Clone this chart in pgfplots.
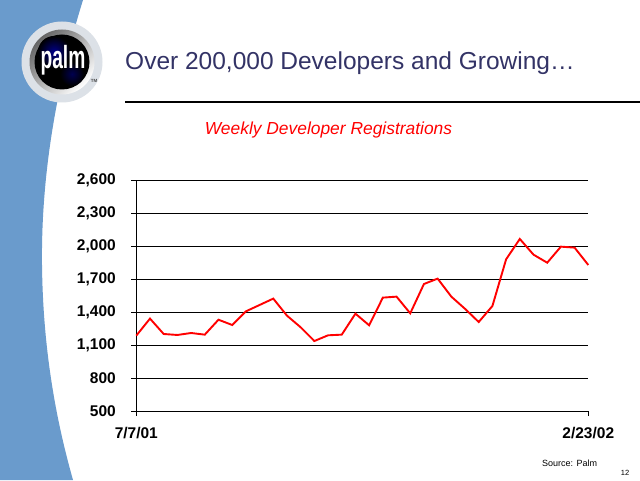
\documentclass[border=0pt]{standalone}
\usepackage{pgfplots}
\pgfplotsset{compat=1.18}
\usepackage{fontspec}
\setmainfont{Liberation Sans}
\definecolor{band}{HTML}{6A9BCC}
\definecolor{navy}{HTML}{333366}
\definecolor{glow}{HTML}{DCE1E7}
\begin{document}
\begin{tikzpicture}[x=1pt,y=1pt]
\useasboundingbox (0,0) rectangle (640,480);
\fill[white] (0,0) rectangle (640,480);
% blue band
\fill[band] (0,480) -- (83,480) .. controls (55,390) and (41,300) .. (42,215)
  .. controls (43,130) and (56,60) .. (73,0) -- (0,0) -- cycle;
% logo
\fill[glow] (62,418) circle (40.5);
\shade[left color=gray!80!black, right color=white, shading angle=45] (62,418) circle (32.5);
\fill[black] (62,418) circle (27.5);
\shade[inner color=blue!55!black, outer color=black] (54,428) circle (16);
\shade[inner color=blue!45!black, outer color=black, opacity=0.7] (72,406) circle (12);
\node[white, font=\bfseries\fontsize{32}{32}\selectfont, xscale=0.6] at (63,420) {palm};
\node[font=\fontsize{4.5}{4.5}\selectfont\bfseries, gray!60!black] at (94,399) {TM};
% title
\node[anchor=base west, navy, font=\fontsize{24.5}{24.5}\selectfont, inner sep=0pt] at (125,410) {Over 200,000 Developers and Growing…};
\draw[black, line width=2pt] (125,378.3) -- (640,378.3);
\node[anchor=base, red, font=\fontsize{17.4}{17.4}\itshape, inner sep=0pt] at (328.5,345) {Weekly Developer Registrations};
% footer
\node[anchor=base west, font=\fontsize{9}{9}\selectfont, inner sep=0pt] at (542,14) {Source: Palm};
\node[anchor=base, font=\fontsize{7.5}{7.5}\selectfont, inner sep=0pt] at (625,5) {12};
\begin{axis}[
  at={(136.3pt,69pt)}, anchor=south west,
  scale only axis, width=452pt, height=230.7pt,
  xmin=0, xmax=33, ymin=500, ymax=2600,
  axis lines=left,
  axis line style={-, line width=0.9pt, black},
  ymajorgrids, grid style={black, line width=0.9pt},
  ytick={500,800,1100,1400,1700,2000,2300,2600},
  yticklabels={500,800,{1,100},{1,400},{1,700},{2,000},{2,300},{2,600}},
  xtick={0,33}, xticklabels={7/7/01,2/23/02},
  tick align=outside, major tick length=5pt,
  tick style={black, line width=0.9pt},
  every tick label/.append style={font=\bfseries\fontsize{15.5}{16}\selectfont, text=black},
  yticklabel style={xshift=-12pt},
  xticklabel style={yshift=-8pt},
  clip=false,
]
\addplot[red, line width=1.9pt, mark=none] coordinates {
(0,1186) (1,1341) (2,1201) (3,1192) (4,1210) (5,1195) (6,1331) (7,1283)
(8,1407) (9,1465) (10,1523) (11,1368) (12,1262) (13,1137) (14,1189) (15,1195)
(16,1386) (17,1280) (18,1532) (19,1541) (20,1389) (21,1656) (22,1705) (23,1541)
(24,1430) (25,1310) (26,1456) (27,1881) (28,2066) (29,1923) (30,1850) (31,1996)
(32,1987) (33,1829)
};
\end{axis}
\end{tikzpicture}
\end{document}
